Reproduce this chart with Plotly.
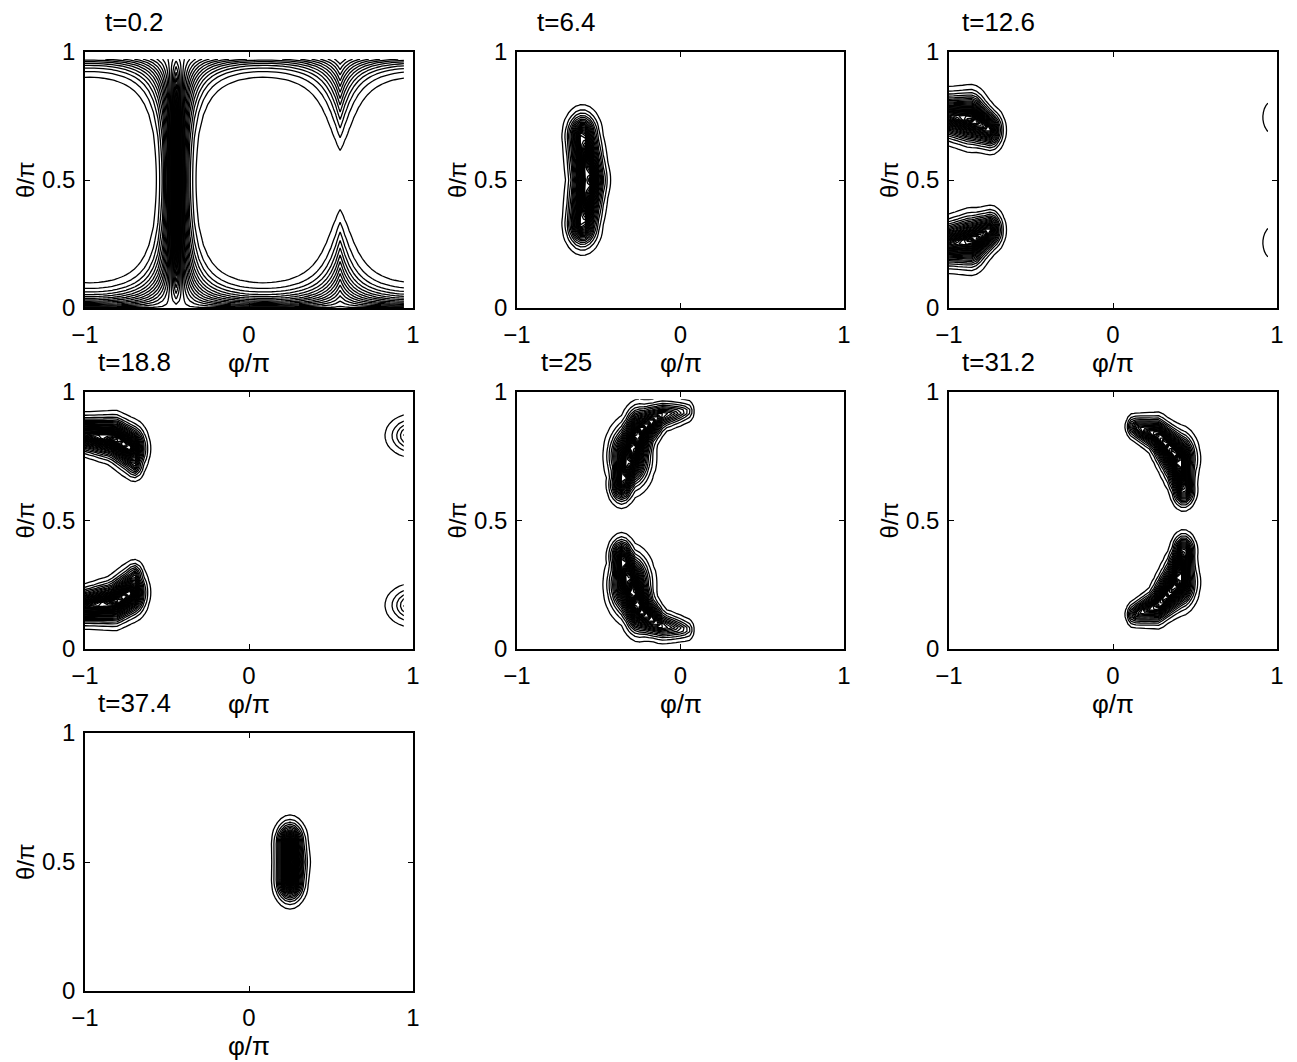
import numpy as np
import plotly.graph_objects as go

# ---------------- data ----------------
TIMES = ["0.2", "6.4", "12.6", "18.8", "25", "31.2", "37.4"]
X_TICKS = [-1, 0, 1]
X_TICK_TEXT = ["\u22121", "0", "1"]
Y_TICKS = [0, 0.5, 1]
Y_TICK_TEXT = ["0", "0.5", "1"]
X_LABEL = "\u03c6/\u03c0"
Y_LABEL = "\u03b8/\u03c0"

# sampling of the (phi/pi, theta/pi) grid: phi in [-1, 0.944], theta in [0, 0.972]
N_STEP = 72
N_PTS = 71

# panel t=0.2 : ridge along the meridian plus polar caps
P1_MERIDIAN = -0.444
P1_RIDGE_POWER = 7.5
P1_ASYM_POWER = 1

# lobe cross-section: exp(-(d/w)**PROFILE_POWER)
PROFILE_POWER = 1.4

# panels t>0 : each lobe is a spine (phi/pi, theta/pi) with peak height and width;
# LOBE gives the lobe id of each spine point, STRETCH the phi elongation of each lobe
T064_PHI = [-0.60, -0.565, -0.60]
T064_THETA = [0.33, 0.50, 0.67]
T064_AMP = [0.7, 1.0, 0.7]
T064_WIDTH = [0.055, 0.055, 0.055]
T064_LOBE = [0, 0, 0]
T064_STRETCH = [1.0]

T126_PHI = [-1.0, -0.87, -0.75, -1.0, -0.87, -0.75, 0.98, 0.98]
T126_THETA = [0.75, 0.74, 0.695, 0.25, 0.26, 0.305, 0.745, 0.255]
T126_AMP = [0.8, 1.0, 0.6, 0.8, 1.0, 0.6, 0.08, 0.08]
T126_WIDTH = [0.05, 0.055, 0.045, 0.05, 0.055, 0.045, 0.07, 0.07]
T126_LOBE = [0, 0, 0, 1, 1, 1, 2, 3]
T126_STRETCH = [1.0, 1.0, 1.0, 1.0]

T188_PHI = [-1.0, -0.82, -0.72, -0.70, -1.0, -0.82, -0.72, -0.70, 1.0, 1.0]
T188_THETA = [0.835, 0.82, 0.78, 0.72, 0.165, 0.18, 0.22, 0.28, 0.83, 0.17]
T188_AMP = [0.8, 1.0, 0.9, 0.35, 0.8, 1.0, 0.9, 0.35, 0.25, 0.25]
T188_WIDTH = [0.038, 0.045, 0.05, 0.037, 0.038, 0.045, 0.05, 0.037, 0.051, 0.051]
T188_LOBE = [0, 0, 0, 0, 1, 1, 1, 1, 2, 3]
T188_STRETCH = [1.0, 1.0, 2.0, 2.0]

T250_PHI = [-0.36, -0.31, -0.25, -0.12, 0.04, -0.36, -0.31, -0.25, -0.12, 0.04]
T250_THETA = [0.64, 0.75, 0.85, 0.91, 0.925, 0.36, 0.25, 0.15, 0.09, 0.075]
T250_AMP = [0.6, 1.0, 0.9, 0.4, 0.15, 0.6, 1.0, 0.9, 0.4, 0.15]
T250_WIDTH = [0.043, 0.068, 0.052, 0.036, 0.032, 0.043, 0.068, 0.052, 0.036, 0.032]
T250_LOBE = [0, 0, 0, 0, 0, 1, 1, 1, 1, 1]
T250_STRETCH = [1.0, 1.0]

T312_PHI = [0.13, 0.27, 0.40, 0.43, 0.13, 0.27, 0.40, 0.43]
T312_THETA = [0.865, 0.835, 0.74, 0.62, 0.135, 0.165, 0.26, 0.38]
T312_AMP = [0.3, 0.7, 1.0, 0.6, 0.3, 0.7, 1.0, 0.6]
T312_WIDTH = [0.03, 0.039, 0.055, 0.039, 0.03, 0.039, 0.055, 0.039]
T312_LOBE = [0, 0, 0, 0, 1, 1, 1, 1]
T312_STRETCH = [1.0, 1.0]

T374_PHI = [0.25, 0.255, 0.25]
T374_THETA = [0.43, 0.50, 0.57]
T374_AMP = [0.85, 1.0, 0.85]
T374_WIDTH = [0.048, 0.048, 0.048]
T374_LOBE = [0, 0, 0]
T374_STRETCH = [1.0]

LOBES = [
    (T064_PHI, T064_THETA, T064_AMP, T064_WIDTH, T064_LOBE, T064_STRETCH),
    (T126_PHI, T126_THETA, T126_AMP, T126_WIDTH, T126_LOBE, T126_STRETCH),
    (T188_PHI, T188_THETA, T188_AMP, T188_WIDTH, T188_LOBE, T188_STRETCH),
    (T250_PHI, T250_THETA, T250_AMP, T250_WIDTH, T250_LOBE, T250_STRETCH),
    (T312_PHI, T312_THETA, T312_AMP, T312_WIDTH, T312_LOBE, T312_STRETCH),
    (T374_PHI, T374_THETA, T374_AMP, T374_WIDTH, T374_LOBE, T374_STRETCH),
]

# ---------------- grids and fields ----------------
phi = -1 + 2 * np.arange(N_PTS) / N_STEP
theta = np.arange(N_PTS) / N_STEP
PH, TH = np.meshgrid(phi, theta)


def meridian_field():
    th = np.pi * TH
    d = np.pi * (PH - P1_MERIDIAN)
    nm = np.abs(np.sin(th) * np.sin(d))
    nu = np.sin(th) * np.cos(d)
    return (1 - nm) ** P1_RIDGE_POWER * ((1 + nu) / 2) ** P1_ASYM_POWER


def lobe_field(ps, ts, amps, ws, lobes, stretch):
    ps, ts, amps, ws, lobes = map(np.asarray, (ps, ts, amps, ws, lobes))
    f = np.zeros_like(PH)
    pw = PROFILE_POWER
    for lid in np.unique(lobes):
        idx = np.where(lobes == lid)[0]
        s = stretch[lid]
        X, Y = PH / s, TH
        px, py = ps[idx] / s, ts[idx]
        a, w = amps[idx], ws[idx]
        if len(idx) == 1:
            d = np.hypot(X - px[0], Y - py[0])
            f = np.maximum(f, a[0] * np.exp(-(d / w[0]) ** pw))
            continue
        for j in range(len(idx) - 1):
            vx, vy = px[j + 1] - px[j], py[j + 1] - py[j]
            u = ((X - px[j]) * vx + (Y - py[j]) * vy) / (vx * vx + vy * vy)
            u = np.clip(u, 0, 1)
            cx, cy = px[j] + u * vx, py[j] + u * vy
            d = np.hypot(X - cx, Y - cy)
            aa = a[j] + u * (a[j + 1] - a[j])
            ww = w[j] + u * (w[j + 1] - w[j])
            f = np.maximum(f, aa * np.exp(-(d / ww) ** pw))
    return f


fields = [meridian_field()] + [lobe_field(*l) for l in LOBES]
fields = [f / f.max() for f in fields]

# ---------------- layout geometry ----------------
# pixel boxes measured on the 1297x1062 reference; the html page body adds an
# 8 px margin, so the figure itself is placed 8 px in from the page corner.
PAGE_OFF = 8
W, H = 1297 - PAGE_OFF, 1062 - PAGE_OFF
COLS = [(85, 413), (517, 844), (949, 1277)]
ROWS = [(52, 308), (392, 649), (733, 991)]
FONT = "Liberation Sans, Arial, Helvetica, sans-serif"
FS = 24
FS_TITLE = 26

fig = go.Figure()
layout = dict(
    width=W, height=H, margin=dict(l=0, r=0, t=0, b=0, autoexpand=False),
    paper_bgcolor="white", plot_bgcolor="white", showlegend=False,
    font=dict(family=FONT, size=FS, color="black"),
)
annotations = []

for i, f in enumerate(fields):
    r, c = divmod(i, 3)
    x0, x1 = (v - PAGE_OFF for v in COLS[c])
    y0, y1 = (v - PAGE_OFF for v in ROWS[r])
    k = "" if i == 0 else str(i + 1)
    fig.add_trace(go.Contour(
        x=phi, y=theta, z=f, xaxis="x" + k, yaxis="y" + k,
        contours=dict(start=0.033, end=0.99, size=0.033, coloring="lines"),
        colorscale=[[0, "black"], [1, "black"]], showscale=False,
        line=dict(width=1.3, smoothing=0), hoverinfo="skip",
    ))
    axcommon = dict(
        showgrid=False, zeroline=False, ticks="inside", ticklen=5, tickwidth=1,
        tickcolor="black", showline=True, linecolor="black", linewidth=1.5,
        mirror="ticks", tickfont=dict(family=FONT, size=FS, color="black"),
    )
    layout["xaxis" + k] = dict(
        axcommon, domain=[x0 / W, x1 / W], range=[-1, 1],
        tickvals=X_TICKS, ticktext=X_TICK_TEXT, anchor="y" + k,
        ticklabelstandoff=4,
    )
    layout["yaxis" + k] = dict(
        axcommon, domain=[1 - y1 / H, 1 - y0 / H], range=[0, 1],
        tickvals=Y_TICKS, ticktext=Y_TICK_TEXT, anchor="x" + k,
        ticklabelstandoff=3,
    )
    annotations.append(dict(
        text="t=" + TIMES[i], x=-0.7, xref="x" + k, y=1, yref="y" + k + " domain",
        yshift=30, yanchor="middle", xanchor="center", showarrow=False,
        font=dict(family=FONT, size=FS_TITLE, color="black"),
    ))
    annotations.append(dict(
        text=X_LABEL, x=0, xref="x" + k, y=0, yref="y" + k + " domain",
        yshift=-55, yanchor="middle", xanchor="center", showarrow=False,
        font=dict(family=FONT, size=FS_TITLE, color="black"),
    ))
    annotations.append(dict(
        text=Y_LABEL, x=0, xref="x" + k + " domain", y=0.5, yref="y" + k + " domain",
        xshift=-60, xanchor="center", yanchor="middle", textangle=-90, showarrow=False,
        font=dict(family=FONT, size=FS, color="black"),
    ))

layout["annotations"] = annotations
fig.update_layout(**layout)
fig.write_html("out.html")
